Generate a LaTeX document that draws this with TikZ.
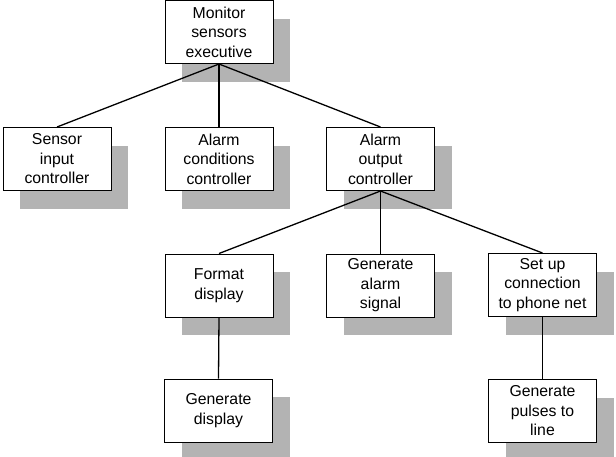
\documentclass[tikz,border=0pt]{standalone}
\usepackage{fontspec}
\setmainfont{Liberation Sans}
\usetikzlibrary{shadows}
\definecolor{shadowgray}{RGB}{179,179,179}
\begin{document}
\begin{tikzpicture}[x=1pt,y=-1pt,
  box/.style={draw, line width=1pt, fill=white, minimum width=108pt, minimum height=63pt,
    inner sep=0pt, align=center, font=\fontsize{15.8}{19.5}\selectfont,
    general shadow={fill=shadowgray, shadow xshift=17pt, shadow yshift=-18pt}},
  conn/.style={line width=1.3pt}]
\useasboundingbox (0,0) rectangle (616,456);
\node[box] (top) at (219,32) {Monitor\\sensors\\executive};
\node[box] (sens) at (57,159) {Sensor\\input\\controller};
\node[box] (cond) at (219,159) {Alarm\\conditions\\controller};
\node[box] (out) at (380.5,159) {Alarm\\output\\controller};
\node[box] (fmt) at (219,285.5) {Format\\display};
\node[box] (sig) at (380.5,285.5) {Generate\\alarm\\signal};
\node[box] (setup) at (542.5,285) {Set up\\connection\\to phone net};
\node[box] (gdisp) at (218.5,410.5) {Generate\\display};
\node[box] (puls) at (542.5,411) {Generate\\pulses to\\line};
\draw[conn] (top.south) -- (sens.north);
\draw[conn] (top.south) -- (cond.north);
\draw[conn] (top.south) -- (out.north);
\draw[conn] (out.south) -- (fmt.north);
\draw[conn] (out.south) -- (sig.north);
\draw[conn] (out.south) -- (setup.north);
\draw[conn] (fmt.south) -- (gdisp.north);
\draw[conn] (setup.south) -- (puls.north);
\end{tikzpicture}
\end{document}
